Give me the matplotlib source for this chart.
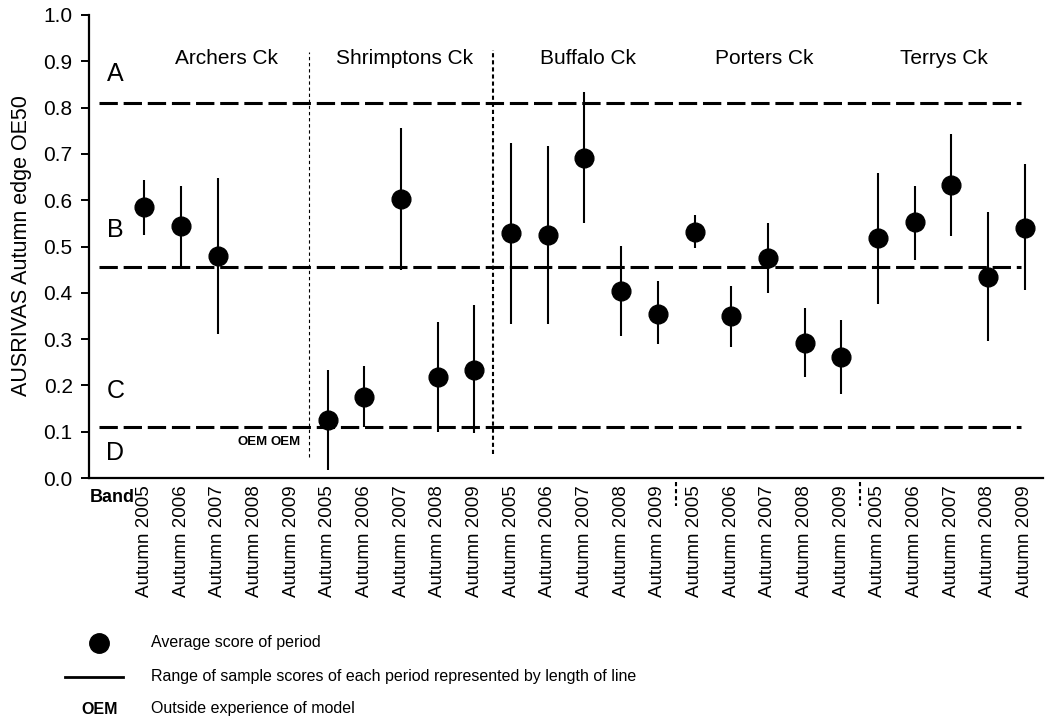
import numpy as np
import matplotlib
matplotlib.use("Agg")
import matplotlib.pyplot as plt
from matplotlib.lines import Line2D

plt.rcParams['font.family'] = ['Liberation Sans', 'DejaVu Sans']

# ---- data -------------------------------------------------------------
creeks = ["Archers Ck", "Shrimptons Ck", "Buffalo Ck", "Porters Ck", "Terrys Ck"]
periods = ["Autumn 2005", "Autumn 2006", "Autumn 2007", "Autumn 2008", "Autumn 2009"]

archers_mean = [0.585, 0.545, 0.480, np.nan, np.nan]
archers_lo = [0.525, 0.457, 0.311, np.nan, np.nan]
archers_hi = [0.643, 0.631, 0.647, np.nan, np.nan]

shrimptons_mean = [0.125, 0.176, 0.602, 0.219, 0.234]
shrimptons_lo = [0.017, 0.110, 0.449, 0.100, 0.098]
shrimptons_hi = [0.233, 0.242, 0.755, 0.336, 0.374]

buffalo_mean = [0.529, 0.524, 0.692, 0.403, 0.355]
buffalo_lo = [0.332, 0.332, 0.551, 0.307, 0.289]
buffalo_hi = [0.723, 0.718, 0.833, 0.501, 0.425]

porters_mean = [0.531, 0.349, 0.475, 0.292, 0.261]
porters_lo = [0.497, 0.284, 0.400, 0.218, 0.182]
porters_hi = [0.567, 0.414, 0.551, 0.367, 0.342]

terrys_mean = [0.519, 0.552, 0.633, 0.434, 0.540]
terrys_lo = [0.376, 0.470, 0.522, 0.295, 0.405]
terrys_hi = [0.659, 0.631, 0.742, 0.574, 0.678]

# band boundaries (A/B, B/C, C/D)
band_edges = [0.81, 0.456, 0.11]
band_letters = ["A", "B", "C", "D"]
band_letter_y = [0.873, 0.536, 0.187, 0.054]

means = np.array(archers_mean + shrimptons_mean + buffalo_mean + porters_mean + terrys_mean)
lows = np.array(archers_lo + shrimptons_lo + buffalo_lo + porters_lo + terrys_lo)
highs = np.array(archers_hi + shrimptons_hi + buffalo_hi + porters_hi + terrys_hi)
tick_labels = periods * len(creeks)
x = np.arange(len(means))

# ---- figure -----------------------------------------------------------
W, H = 1053, 719
fig = plt.figure(figsize=(W / 100, H / 100), dpi=100)


def fx(px):
    return px / W


def fy(py):
    return 1 - py / H


ax = fig.add_axes([fx(89.3), fy(478), fx(1043) - fx(89.3), fy(15) - fy(478)])
ax.set_xlim(-1.5, 24.5)
ax.set_ylim(0, 1.0)

for s in ["top", "right"]:
    ax.spines[s].set_visible(False)
for s in ["left", "bottom"]:
    ax.spines[s].set_linewidth(1.6)

ax.set_yticks(np.arange(0, 1.01, 0.1))
ax.set_yticklabels([f"{v:.1f}" for v in np.arange(0, 1.01, 0.1)], fontsize=15)
ax.tick_params(axis="y", direction="out", length=6, width=1.4, pad=6)
ax.set_xticks(x)
ax.set_xticklabels(tick_labels, rotation=90, fontsize=13.5, va="top", ha="center")
ax.tick_params(axis="x", length=0, pad=5)

ax.text(-0.0706, 0.502, "AUSRIVAS Autumn edge OE50", rotation=90, fontsize=15.5,
        ha="center", va="center", transform=ax.transAxes)

# band thresholds
for yv in band_edges:
    ax.plot([-1.23, 23.9], [yv, yv], color="black", lw=2.2, dashes=(6.0, 1.9),
            solid_capstyle="butt", dash_capstyle="butt", zorder=2)
for letter, yv in zip(band_letters, band_letter_y):
    ax.text(-0.79, yv, letter, fontsize=18, ha="center", va="center")

# creek separators
ax.plot([4.5, 4.5], [0.045, 0.92], color="black", lw=0.8, dashes=(3, 2.5), zorder=1)
ax.plot([9.5, 9.5], [0.052, 0.925], color="black", lw=1.5, dashes=(2, 1.4), zorder=1)
for xs in [14.5, 19.5]:
    ax.plot([xs, xs], [-0.009, -0.06], color="black", lw=1.5, dashes=(2, 1.4),
            clip_on=False)

# creek names
name_x = [2.25, 7.1, 12.1, 16.9, 21.8]
for name, xn in zip(creeks, name_x):
    ax.text(xn, 0.907, name, fontsize=15, ha="center", va="center")

# ranges and means
ax.vlines(x, lows, highs, color="black", lw=1.5, zorder=3)
ax.plot(x, means, "o", color="black", ms=13.5, zorder=4)

# periods outside the model's experience
for xi in x[np.isnan(means)]:
    ax.text(xi - 0.1 * (xi - 2.5), 0.078, "OEM", fontsize=9.5, fontweight="bold",
            ha="center", va="center")

fig.text(fx(90), fy(497), "Band", fontsize=13, fontweight="bold", ha="left", va="center")

# ---- key --------------------------------------------------------------
fig.add_artist(Line2D([fx(99.3)], [fy(642.7)], marker="o", color="black", ms=14,
                      linestyle="none", transform=fig.transFigure))
fig.add_artist(Line2D([fx(65), fx(123)], [fy(676.7), fy(676.7)], color="black",
                      lw=2.0, transform=fig.transFigure))
fig.text(fx(100), fy(709.3), "OEM", fontsize=11.5, fontweight="bold", ha="center", va="center")
key_texts = ["Average score of period",
             "Range of sample scores of each period represented by length of line",
             "Outside experience of model"]
for t, py in zip(key_texts, [642, 676, 709]):
    fig.text(fx(151), fy(py), t, fontsize=11.5, ha="left", va="center")

fig.savefig("out.png", dpi=100)
